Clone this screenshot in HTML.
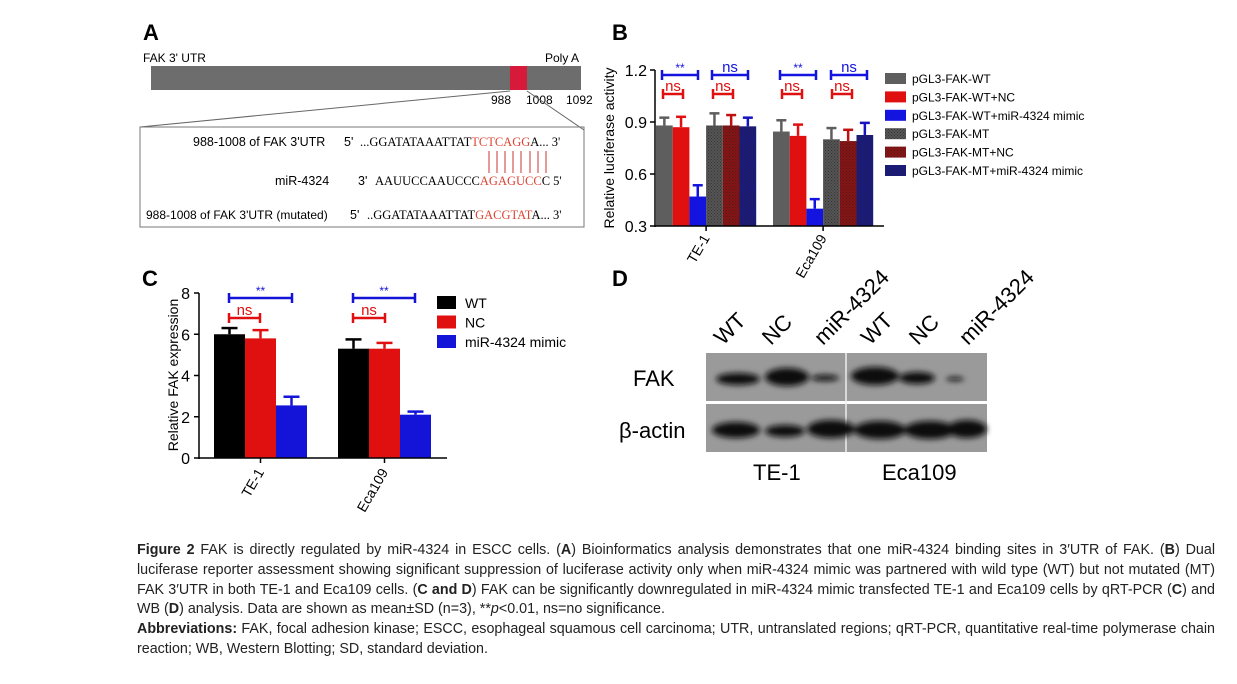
<!DOCTYPE html>
<html><head><meta charset="utf-8"><style>
body{margin:0;background:#fff;width:1237px;height:684px;overflow:hidden;font-family:"Liberation Sans",sans-serif;}
svg{position:absolute;left:0;top:0}
#cap{position:absolute;left:137px;top:541px;width:1078px;font-size:14.3px;line-height:19.8px;color:#222;text-align:justify}
#cap p{margin:0}
</style></head><body>
<svg width="1237" height="540" font-family="Liberation Sans, sans-serif">
<g>
<text x="143" y="40" font-size="22" font-weight="bold">A</text>
<text x="143" y="62" font-size="12">FAK 3' UTR</text>
<text x="545" y="62" font-size="12">Poly A</text>
<rect x="151" y="66" width="430" height="24" fill="#6d6d6d"/>
<rect x="510" y="66" width="17" height="24" fill="#d71a3a"/>
<text x="491" y="104" font-size="12">988</text>
<text x="526" y="104" font-size="12">1008</text>
<text x="566" y="104" font-size="12">1092</text>
<polyline points="140,127 510,91" stroke="#666" fill="none"/>
<polyline points="527,91 584,130" stroke="#666" fill="none"/>
<rect x="140" y="127" width="444" height="100" fill="none" stroke="#777"/>
<g font-size="12.5">
<text x="193" y="146">988-1008 of FAK 3'UTR</text>
<text x="344" y="146">5'</text>
<text x="275" y="185">miR-4324</text>
<text x="358" y="185">3'</text>
<text x="146" y="219" font-size="12">988-1008 of FAK 3'UTR (mutated)</text>
<text x="350" y="219">5'</text>
</g>
<g font-family="Liberation Serif, serif" font-size="12.5">
<text x="360" y="146">...GGATATAAATTAT<tspan fill="#d43">TCTCAGG</tspan>A... 3'</text>
<text x="375" y="185">AAUUCCAAUCCC<tspan fill="#d43">AGAGUCC</tspan>C 5'</text>
<text x="367" y="219">..GGATATAAATTAT<tspan fill="#d43">GACGTAT</tspan>A... 3'</text>
</g>
<g stroke="#c33" stroke-width="1">
<line x1="489" y1="151" x2="489" y2="173"/><line x1="497" y1="151" x2="497" y2="173"/><line x1="505" y1="151" x2="505" y2="173"/><line x1="513" y1="151" x2="513" y2="173"/><line x1="521" y1="151" x2="521" y2="173"/><line x1="530" y1="151" x2="530" y2="173"/><line x1="538" y1="151" x2="538" y2="173"/><line x1="546" y1="151" x2="546" y2="173"/>
</g>
</g>
<g id="pb"><text x="612" y="40" font-size="22" font-weight="bold">B</text></g>
<g id="pc"><text x="142" y="286" font-size="22" font-weight="bold">C</text></g>
<g>
<text x="612" y="286" font-size="22" font-weight="bold">D</text>
<defs>
<filter id="bl"><feGaussianBlur stdDeviation="3"/></filter>
</defs>
<rect x="706" y="353" width="281" height="48" fill="#9a9a9a"/>
<rect x="706" y="404" width="281" height="48" fill="#9a9a9a"/>
<line x1="846" y1="353" x2="846" y2="452" stroke="#eee" stroke-width="1.5"/>
<g fill="#111" filter="url(#bl)">
<ellipse cx="738" cy="379" rx="22" ry="6"/><ellipse cx="787" cy="377" rx="22" ry="9"/><ellipse cx="825" cy="378" rx="14" ry="3"/>
<ellipse cx="875" cy="376" rx="24" ry="9"/><ellipse cx="917" cy="378" rx="18" ry="6"/><ellipse cx="955" cy="379" rx="9" ry="2"/>
<ellipse cx="736" cy="430" rx="24" ry="8"/><ellipse cx="785" cy="431" rx="20" ry="6"/><ellipse cx="831" cy="429" rx="24" ry="9"/>
<ellipse cx="880" cy="430" rx="26" ry="9"/><ellipse cx="930" cy="430" rx="26" ry="9"/><ellipse cx="967" cy="429" rx="20" ry="9"/>
</g>
<text x="633" y="386" font-size="22">FAK</text>
<text x="619" y="438" font-size="22">β-actin</text>
<text x="753" y="480" font-size="22">TE-1</text>
<text x="882" y="480" font-size="22">Eca109</text>
<g font-size="22">
<text transform="translate(723,346) rotate(-45)">WT</text>
<text transform="translate(771,346) rotate(-45)">NC</text>
<text transform="translate(823,346) rotate(-45)">miR-4324</text>
<text transform="translate(870,346) rotate(-45)">WT</text>
<text transform="translate(918,346) rotate(-45)">NC</text>
<text transform="translate(968,346) rotate(-45)">miR-4324</text>
</g>
</g>
</svg>
<div id="cap">
<p><b>Figure 2</b> FAK is directly regulated by miR-4324 in ESCC cells. (<b>A</b>) Bioinformatics analysis demonstrates that one miR-4324 binding sites in 3′UTR of FAK. (<b>B</b>) Dual luciferase reporter assessment showing significant suppression of luciferase activity only when miR-4324 mimic was partnered with wild type (WT) but not mutated (MT) FAK 3′UTR in both TE-1 and Eca109 cells. (<b>C and D</b>) FAK can be significantly downregulated in miR-4324 mimic transfected TE-1 and Eca109 cells by qRT-PCR (<b>C</b>) and WB (<b>D</b>) analysis. Data are shown as mean±SD (n=3), **<i>p</i>&lt;0.01, ns=no significance.</p>
<p><b>Abbreviations:</b> FAK, focal adhesion kinase; ESCC, esophageal squamous cell carcinoma; UTR, untranslated regions; qRT-PCR, quantitative real-time polymerase chain reaction; WB, Western Blotting; SD, standard deviation.</p>
</div>
<script>
const NS='http://www.w3.org/2000/svg';
// Panel B data
const bGroups=['TE-1','Eca109'];
const bSeries=['pGL3-FAK-WT','pGL3-FAK-WT+NC','pGL3-FAK-WT+miR-4324 mimic','pGL3-FAK-MT','pGL3-FAK-MT+NC','pGL3-FAK-MT+miR-4324 mimic'];
const bTE1=[0.88,0.87,0.47,0.88,0.88,0.875];
const bEca=[0.845,0.82,0.40,0.80,0.79,0.825];
const bErrTE1=[0.045,0.06,0.065,0.07,0.06,0.05];
const bErrEca=[0.065,0.065,0.055,0.065,0.065,0.07];
const bTicks=[0.3,0.6,0.9,1.2];
// Panel C data
const cGroups=['TE-1','Eca109'];
const cSeries=['WT','NC','miR-4324 mimic'];
const cTE1=[6.0,5.8,2.55];
const cEca=[5.3,5.3,2.1];
const cErrTE1=[0.3,0.4,0.42];
const cErrEca=[0.45,0.28,0.15];
const cTicks=[0,2,4,6,8];

function el(p,tag,a,txt){const e=document.createElementNS(NS,tag);for(const k in a)e.setAttribute(k,a[k]);if(txt!=null)e.textContent=txt;p.appendChild(e);return e;}
function defsPat(svg){const d=el(svg,'defs',{});
 [['pg','#555'],['pr','#8a1414'],['pn','#1a1a80']].forEach(([id,c])=>{const p=el(d,'pattern',{id:id,width:3,height:3,patternUnits:'userSpaceOnUse'});el(p,'rect',{width:3,height:3,fill:c});el(p,'rect',{width:1,height:1,fill:'#222',opacity:0.6});el(p,'rect',{x:1.5,y:1.5,width:1,height:1,fill:'#222',opacity:0.6});});}
function bracket(g,x1,x2,y,col,lab,fs){
 const b=el(g,'g',{stroke:col,'stroke-width':2.5,fill:'none'});
 
 
 el(b,'line',{x1:x1,x2:x2,y1:y,y2:y});el(b,'line',{x1:x1,x2:x1,y1:y-5,y2:y+5});el(b,'line',{x1:x2,x2:x2,y1:y-5,y2:y+5});
 el(g,'text',{x:(x1+x2)/2,y:y-3,'text-anchor':'middle','font-size':fs,fill:col},lab);
}
const svg=document.querySelector('svg');defsPat(svg);

(function(){
 const g=document.getElementById('pb');
 const x0=655,y0=226,yTop=70,vmin=0.3,vmax=1.2;
 const ys=v=>y0-(v-vmin)/(vmax-vmin)*(y0-yTop);
 const bw=16.7,gStart=[656,773];
 const fills=['#5e5e5e','#e01010','#1414e0','url(#pg)','url(#pr)','url(#pn)'];
 const errC=['#5e5e5e','#e01010','#1414e0','#5e5e5e','#c01010','#1414c0'];
 const vals=[bTE1,bEca],errs=[bErrTE1,bErrEca];
 vals.forEach((arr,gi)=>arr.forEach((v,i)=>{
  const x=gStart[gi]+i*bw,yv=ys(v),ye=ys(v+errs[gi][i]);
  const r=el(g,'rect',{x:x,y:yv,width:bw,height:y0-yv,fill:fills[i]});
  
  
  el(g,'line',{x1:x+bw/2,x2:x+bw/2,y1:yv,y2:ye,stroke:errC[i],'stroke-width':2.5});
  el(g,'line',{x1:x+bw/2-5,x2:x+bw/2+5,y1:ye,y2:ye,stroke:errC[i],'stroke-width':2.5});
 }));
 el(g,'line',{x1:x0,x2:x0,y1:yTop,y2:y0+1,stroke:'#000','stroke-width':1.5});
 el(g,'line',{x1:x0,x2:884,y1:y0,y2:y0,stroke:'#000','stroke-width':1.5});
 bTicks.forEach(t=>{const y=ys(t);el(g,'line',{x1:x0-5,x2:x0,y1:y,y2:y,stroke:'#000','stroke-width':1.5});el(g,'text',{x:x0-8,y:y+6,'text-anchor':'end','font-size':16},t.toFixed(1));});
 bGroups.forEach((n,gi)=>{const cx=gStart[gi]+3*bw;el(g,'line',{x1:cx,x2:cx,y1:y0,y2:y0+5,stroke:'#000','stroke-width':1.5});el(g,'text',{transform:`translate(${cx+4},${y0+12}) rotate(-60)`,'text-anchor':'end','font-size':14},n);});
 el(g,'text',{transform:'translate(614,148) rotate(-90)','text-anchor':'middle','font-size':14},'Relative luciferase activity');
 bracket(g,662,698,75,'#1414e0','**',12);bracket(g,712,748,75,'#1414e0','ns',15);
 bracket(g,780,816,75,'#1414e0','**',12);bracket(g,831,867,75,'#1414e0','ns',15);
 bracket(g,663,683,94,'#e01010','ns',15);bracket(g,713,733,94,'#e01010','ns',15);
 bracket(g,782,802,94,'#e01010','ns',15);bracket(g,832,852,94,'#e01010','ns',15);
 bSeries.forEach((s,i)=>{const y=78+i*18.4;const r=el(g,'rect',{x:885,y:y-5,width:21,height:11,fill:fills[i]});
  
  
  el(g,'text',{x:912,y:y+5,'font-size':12},s);});
})();

(function(){
 const g=document.getElementById('pc');
 const x0=199,y0=458,yTop=293,vmax=8;
 const ys=v=>y0-v/vmax*(y0-yTop);
 const bw=31,gStart=[214,338];
 const fills=['#000','#e01010','#1414d8'];
 const vals=[cTE1,cEca],errs=[cErrTE1,cErrEca];
 vals.forEach((arr,gi)=>arr.forEach((v,i)=>{
  const x=gStart[gi]+i*bw,yv=ys(v),ye=ys(v+errs[gi][i]);
  const r=el(g,'rect',{x:x,y:yv,width:bw,height:y0-yv,fill:fills[i]});
  
  
  el(g,'line',{x1:x+bw/2,x2:x+bw/2,y1:yv,y2:ye,stroke:fills[i],'stroke-width':2.5});
  el(g,'line',{x1:x+bw/2-8,x2:x+bw/2+8,y1:ye,y2:ye,stroke:fills[i],'stroke-width':2.5});
 }));
 el(g,'line',{x1:x0,x2:x0,y1:yTop,y2:y0+1,stroke:'#000','stroke-width':1.5});
 el(g,'line',{x1:x0,x2:447,y1:y0,y2:y0,stroke:'#000','stroke-width':1.5});
 cTicks.forEach(t=>{const y=ys(t);el(g,'line',{x1:x0-5,x2:x0,y1:y,y2:y,stroke:'#000','stroke-width':1.5});el(g,'text',{x:x0-9,y:y+6,'text-anchor':'end','font-size':16},t);});
 cGroups.forEach((n,gi)=>{const cx=gStart[gi]+1.5*bw;el(g,'line',{x1:cx,x2:cx,y1:y0,y2:y0+5,stroke:'#000','stroke-width':1.5});el(g,'text',{transform:`translate(${cx+4},${y0+14}) rotate(-60)`,'text-anchor':'end','font-size':14},n);});
 el(g,'text',{transform:'translate(178,375) rotate(-90)','text-anchor':'middle','font-size':14},'Relative FAK expression');
 bracket(g,229,292,298,'#1414d8','**',12);bracket(g,353,415,298,'#1414d8','**',12);
 bracket(g,229,260,318,'#e01010','ns',15);bracket(g,353,385,318,'#e01010','ns',15);
 cSeries.forEach((s,i)=>{const y=302+i*19.5;const r=el(g,'rect',{x:437,y:y-6,width:19,height:13,fill:fills[i]});
  
  
  el(g,'text',{x:465,y:y+6,'font-size':14},s);});
})();
</script>
</body></html>
